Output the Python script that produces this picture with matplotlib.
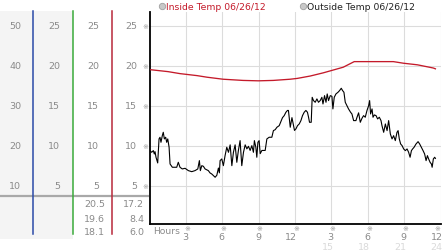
import matplotlib
matplotlib.use("Agg")
import matplotlib.pyplot as plt
from matplotlib.transforms import blended_transform_factory as btf, offset_copy

# ---------------- data ----------------
outside_hours = [0.02, 0.16, 0.30, 0.38, 0.44, 0.52, 0.66, 0.77, 0.85, 0.93, 1.04, 1.12, 1.21, 1.32,
                 1.40, 1.49, 1.60, 1.68, 1.87, 2.23, 2.36, 2.50, 2.69, 2.92, 3.19, 3.47, 3.74, 3.97,
                 4.10, 4.18, 4.30, 4.43, 4.57, 4.84, 4.98, 5.12, 5.40, 5.54, 5.67, 5.75, 5.81, 5.95,
                 6.08, 6.22, 6.36, 6.50, 6.64, 6.78, 6.91, 7.05, 7.19, 7.32, 7.46, 7.60, 7.74, 7.88,
                 8.02, 8.15, 8.29, 8.43, 8.56, 8.64, 8.76, 8.84, 8.93, 9.03, 9.12, 9.26, 9.53, 9.67,
                 9.86, 10.08, 10.21, 10.36, 10.50, 10.69, 10.85, 10.96, 11.10, 11.24, 11.37, 11.45,
                 11.60, 11.74, 11.87, 11.95, 12.07, 12.20, 12.34, 12.48, 12.61, 12.75, 12.89, 13.02,
                 13.11, 13.19, 13.33, 13.41, 13.52, 13.66, 13.80, 13.93, 14.07, 14.21, 14.30, 14.43,
                 14.55, 14.65, 14.76, 14.90, 15.04, 15.12, 15.23, 15.37, 15.54, 15.67, 15.81, 15.92,
                 16.03, 16.14, 16.28, 16.41, 16.58, 16.69, 16.83, 17.02, 17.11, 17.24, 17.38, 17.52,
                 17.65, 17.79, 17.93, 18.07, 18.15, 18.23, 18.35, 18.43, 18.54, 18.68, 18.81, 18.95,
                 19.09, 19.17, 19.31, 19.45, 19.59, 19.72, 19.86, 20.00, 20.13, 20.27, 20.41, 20.50,
                 20.60, 20.71, 20.83, 20.96, 21.10, 21.24, 21.37, 21.49, 21.60, 21.70, 21.82, 21.98,
                 22.15, 22.28, 22.42, 22.56, 22.69, 22.81, 22.92, 23.02, 23.14, 23.25, 23.31, 23.41,
                 23.52, 23.58]
outside_temp = [9.38, 9.17, 9.38, 8.96, 9.25, 8.55, 7.84, 10.84, 11.05, 10.42, 11.25, 11.67, 10.84, 11.05,
                10.42, 10.84, 9.80, 7.71, 7.30, 7.30, 7.92, 7.30, 7.09, 7.17, 6.88, 6.75, 6.88, 7.09,
                8.13, 6.88, 7.50, 7.42, 7.09, 6.88, 6.59, 6.46, 6.05, 6.30, 7.20, 6.60, 8.13, 8.34,
                7.50, 8.75, 9.80, 9.17, 10.10, 7.50, 9.17, 10.10, 7.92, 9.40, 10.63, 7.50, 9.17, 10.10,
                9.60, 9.92, 9.40, 10.00, 9.17, 10.63, 9.80, 8.55, 10.42, 10.63, 9.00, 9.40, 9.40, 10.84,
                11.05, 11.05, 11.88, 12.00, 12.30, 12.50, 13.10, 13.50, 13.75, 14.17, 14.40, 14.40,
                12.30, 13.50, 12.50, 11.90, 12.10, 12.50, 12.71, 13.13, 13.75, 14.17, 14.40, 14.17,
                13.55, 12.92, 12.92, 16.04, 15.63, 15.42, 15.84, 15.42, 15.63, 16.04, 15.21, 16.25,
                15.42, 16.46, 15.63, 16.25, 16.17, 14.59, 16.04, 16.46, 16.67, 16.88, 17.17, 16.88,
                16.67, 15.42, 15.00, 14.59, 14.17, 13.96, 13.13, 13.13, 13.55, 14.10, 12.92, 13.42,
                13.75, 13.55, 14.38, 15.00, 15.63, 13.96, 14.59, 13.55, 13.84, 13.75, 13.34, 13.55,
                13.13, 12.50, 11.67, 12.71, 11.88, 13.13, 11.46, 10.84, 11.25, 10.63, 11.67, 11.88,
                10.84, 10.21, 10.00, 9.59, 9.38, 9.59, 9.17, 8.55, 9.38, 9.59, 9.80, 10.21,
                10.50, 10.21, 9.80, 9.38, 8.96, 8.13, 8.75, 8.34, 7.92, 7.71, 7.30, 8.34,
                8.55, 8.40]

inside_hours = [0.0, 1.51, 2.50, 3.91, 4.74, 6.06, 7.71, 8.97, 10.19, 11.59, 12.17, 13.25, 14.33,
                15.97, 16.88, 20.11, 20.94, 22.10, 23.41, 23.58]
inside_temp = [19.5, 19.25, 19.0, 18.75, 18.55, 18.3, 18.15, 18.1, 18.15, 18.3, 18.4, 18.7, 19.1,
               19.8, 20.5, 20.5, 20.3, 20.1, 19.7, 19.6]

x_ticks = [3, 6, 9, 12, 15, 18, 21, 24]
x_labels = ["3", "6", "9", "12", "3", "6", "9", "12"]
x_labels2 = ["15", "18", "21", "24"]
y_ticks = [25, 20, 15, 10, 5]
col1_labels = ["50", "40", "30", "20", "10"]
col2_labels = ["25", "20", "15", "10", "5"]
col3_labels = ["25", "20", "15", "10", "5"]
col4_labels = ["25", "20", "15", "10", "5"]
inside_stats = ["20.5", "19.6", "18.1"]
outside_stats = ["17.2", "8.4", "6.0"]
legend_inside = "Inside Temp 06/26/12"
legend_outside = "Outside Temp 06/26/12"

# ---------------- figure ----------------
W, H = 442, 253
fig = plt.figure(figsize=(W / 100, H / 100), dpi=100)
fig.patch.set_facecolor("white")
bg = fig.add_axes([0, 0, 1, 1])
bg.set_xlim(0, W)
bg.set_ylim(H, 0)
bg.axis("off")

ax = fig.add_axes([149.7 / W, (H - 225) / H, (440.5 - 149.7) / W, 212 / H])
ax.set_facecolor("none")
ax.set_xlim(0, 24)
ax.set_ylim(0.21, 26.7)

txt = "#8a8a8a"
mark = "#9a9a9a"
fs = 6.8

# left panel background
bg.add_patch(plt.Rectangle((0, 12), 72.5, 228, color="#f4f4f4", lw=0, zorder=0))
bg.plot([0, 149], [197, 197], color="#a8a8a8", lw=1.6, zorder=2, solid_capstyle="butt")
bg.plot([33, 33], [12, 235], color="#2a4aa8", lw=1.1, zorder=3)
bg.plot([72.5, 72.5], [12, 235], color="#3aaa3a", lw=1.1, zorder=3)
bg.plot([111.5, 111.5], [12, 235], color="#b8283a", lw=1.1, zorder=3)

ty = btf(bg.transData, ax.transData)
for v, a, b, c, d in zip(y_ticks, col1_labels, col2_labels, col3_labels, col4_labels):
    bg.text(21, v, a, transform=ty, ha="right", va="center", fontsize=fs, color=txt)
    bg.text(60, v, b, transform=ty, ha="right", va="center", fontsize=fs, color=txt)
    bg.text(99, v, c, transform=ty, ha="right", va="center", fontsize=fs, color=txt)
    bg.text(137, v, d, transform=ty, ha="right", va="center", fontsize=fs, color=txt)
    bg.text(145.3, v, "※", transform=ty, ha="center", va="center", fontsize=5, color=mark)

for yy, s1, s2 in zip([205, 219.3, 232.7], inside_stats, outside_stats):
    bg.text(105, yy, s1, ha="right", va="center", fontsize=fs, color=txt)
    bg.text(144, yy, s2, ha="right", va="center", fontsize=fs, color=txt)

# grid
for v in y_ticks:
    ax.axhline(v, color="#dcdcdc", lw=0.8, zorder=0)
for h in x_ticks:
    ax.axvline(h, color="#dcdcdc", lw=0.8, zorder=0)

ax.plot(inside_hours, inside_temp, color="#c41a2a", lw=0.95, zorder=3)
ax.plot(outside_hours, outside_temp, color="black", lw=0.8, zorder=4)

for s in ["top", "right"]:
    ax.spines[s].set_visible(False)
for s in ["left", "bottom"]:
    ax.spines[s].set_color("black")
    ax.spines[s].set_linewidth(1.3)
ax.set_xticks([])
ax.set_yticks([])

# x tick labels
tx = btf(ax.transData, bg.transData)
tx_r = offset_copy(tx, fig=fig, x=2.2, y=0, units="dots")
tx_c = offset_copy(tx, fig=fig, x=1.0, y=0, units="dots")
tx_last = offset_copy(tx, fig=fig, x=-3.0, y=0, units="dots")
for i, (h, lab) in enumerate(zip(x_ticks, x_labels)):
    t_m = tx_last if i == len(x_ticks) - 1 else tx_c
    bg.text(h, 229, "※", transform=t_m, ha="center", va="center", fontsize=5, color=mark)
    bg.text(h, 237.5, lab, transform=tx_r, ha="right", va="center", fontsize=fs, color=txt)
for h, lab in zip(x_ticks[4:], x_labels2):
    bg.text(h, 248, lab, transform=tx_r, ha="right", va="center", fontsize=fs, color="#dadada")
bg.text(153, 231.5, "Hours", ha="left", va="center", fontsize=6.6, color=txt)

# legend
bg.plot([162], [7], "o", ms=4.6, mfc="#c8c8c8", mec="#a0a0a0", mew=0.6)
bg.text(166.5, 7.3, legend_inside, ha="left", va="center", fontsize=6.7, color="#c41a2a")
bg.plot([303], [7], "o", ms=4.6, mfc="#c8c8c8", mec="#a0a0a0", mew=0.6)
bg.text(307, 7.3, legend_outside, ha="left", va="center", fontsize=6.7, color="#222222")

fig.savefig("out.png", dpi=100, facecolor="white")
